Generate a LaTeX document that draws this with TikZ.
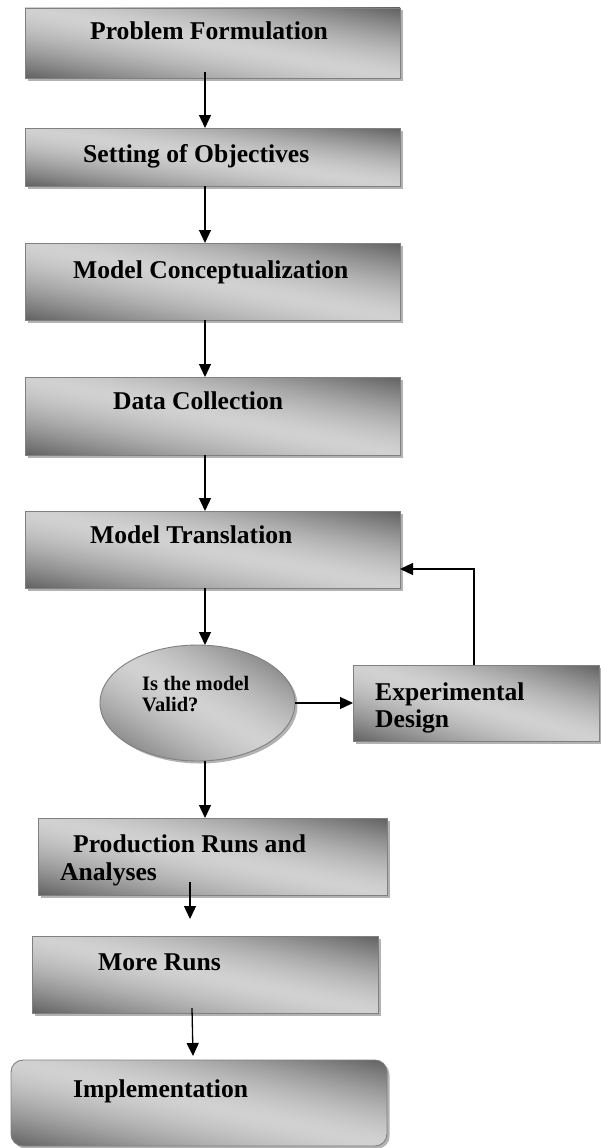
\documentclass[tikz,border=0pt]{standalone}
\usepackage{fontspec}
\setmainfont{Liberation Serif}
\usetikzlibrary{arrows.meta,shapes.geometric,shadows,calc}

% grey fill, brightest along the falling diagonal, darkening towards
% the top-right and bottom-left corners
\pgfdeclarefunctionalshading{boxgrad}{\pgfpoint{0bp}{0bp}}{\pgfpoint{100bp}{100bp}}{}{
  add 100 sub abs 50 div
  dup sqrt mul
  0.44 mul 0.82 exch sub
  dup dup
}

\tikzset{
  flowbox/.style={draw=black!50, line width=0.9pt, shade, shading=boxgrad,
    inner sep=0pt, outer sep=0pt,
    drop shadow={shadow xshift=2.5pt, shadow yshift=-2.5pt, fill=black!30, opacity=1}},
  lbl/.style={font=\fontsize{25.6}{28}\selectfont\bfseries, inner sep=0pt, anchor=base west},
  smalllbl/.style={font=\fontsize{20.5}{22}\selectfont\bfseries, inner sep=0pt, anchor=base west},
  arr/.style={-{Triangle[width=12pt,length=13pt]}, line width=1.3pt, draw=black},
}

\begin{document}
\begin{tikzpicture}[x=1pt,y=-1pt]
\useasboundingbox (0,0) rectangle (601,1148);

% boxes
\node[flowbox, minimum width=375pt, minimum height=70pt] (pf) at (212.5,43) {};
\node[flowbox, minimum width=375pt, minimum height=58pt] (so) at (212.5,157) {};
\node[flowbox, minimum width=375pt, minimum height=77pt] (mc) at (212.5,281.5) {};
\node[flowbox, minimum width=375pt, minimum height=78pt] (dc) at (212.5,416) {};
\node[flowbox, minimum width=375pt, minimum height=77pt] (mt) at (212.5,549.5) {};
\node[flowbox, ellipse, minimum width=195pt, minimum height=116pt] (ell) at (197.5,703) {};
\node[flowbox, minimum width=246pt, minimum height=76pt] (ed) at (476,703) {};
\node[flowbox, minimum width=349pt, minimum height=77pt] (pr) at (212.5,856.5) {};
\node[flowbox, minimum width=346pt, minimum height=77pt] (mr) at (205,974.5) {};
\node[flowbox, rounded corners=12pt, minimum width=376pt, minimum height=86pt] (impl) at (199,1103) {};

% labels
\node[lbl] (pft) at (90,40) {Problem Formulation};
\node[lbl] (sot) at (83,162) {Setting of Objectives};
\node[lbl] (mct) at (73,278) {Model Conceptualization};
\node[lbl] (dct) at (113,409) {Data Collection};
\node[lbl] (mtt) at (90,543) {Model Translation};
\node[smalllbl] (ellt1) at (142,690) {Is the model};
\node[smalllbl] (ellt2) at (142,711) {Valid?};
\node[lbl] (edt1) at (375,700) {Experimental};
\node[lbl] (edt2) at (375,727) {Design};
\node[lbl] (prt1) at (73,852) {Production Runs and};
\node[lbl] (prt2) at (60,880) {Analyses};
\node[lbl] (mrt) at (98,970) {More Runs};
\node[lbl] (implt) at (73,1097) {Implementation};

% connectors
\draw[arr] ([xshift=-7.5pt,yshift=6pt]pf.south) -- ([xshift=-7.5pt]so.north);
\draw[arr] ([xshift=-7.5pt]so.south) -- ([xshift=-7.5pt]mc.north);
\draw[arr] ([xshift=-7.5pt]mc.south) -- ([xshift=-7.5pt]dc.north);
\draw[arr] ([xshift=-7.5pt]dc.south) -- ([xshift=-7.5pt]mt.north);
\draw[arr] ([xshift=-7.5pt]mt.south) -- ([xshift=7.5pt]ell.north);
\draw[arr] (ell.east) -- (ed.west);
\draw[arr] ([xshift=-2pt]ed.north) |- ([yshift=-19.5pt]mt.east);
\draw[arr] ([xshift=7.5pt]ell.south) -- ([xshift=-7.5pt]pr.north);
\draw[arr] ([xshift=-22.5pt,yshift=13.5pt]pr.south) -- ([xshift=-15pt,yshift=17pt]mr.north);
\draw[arr] ([xshift=-13pt,yshift=5pt]mr.south) -- ([xshift=-6pt,yshift=4pt]impl.north);
\end{tikzpicture}
\end{document}
